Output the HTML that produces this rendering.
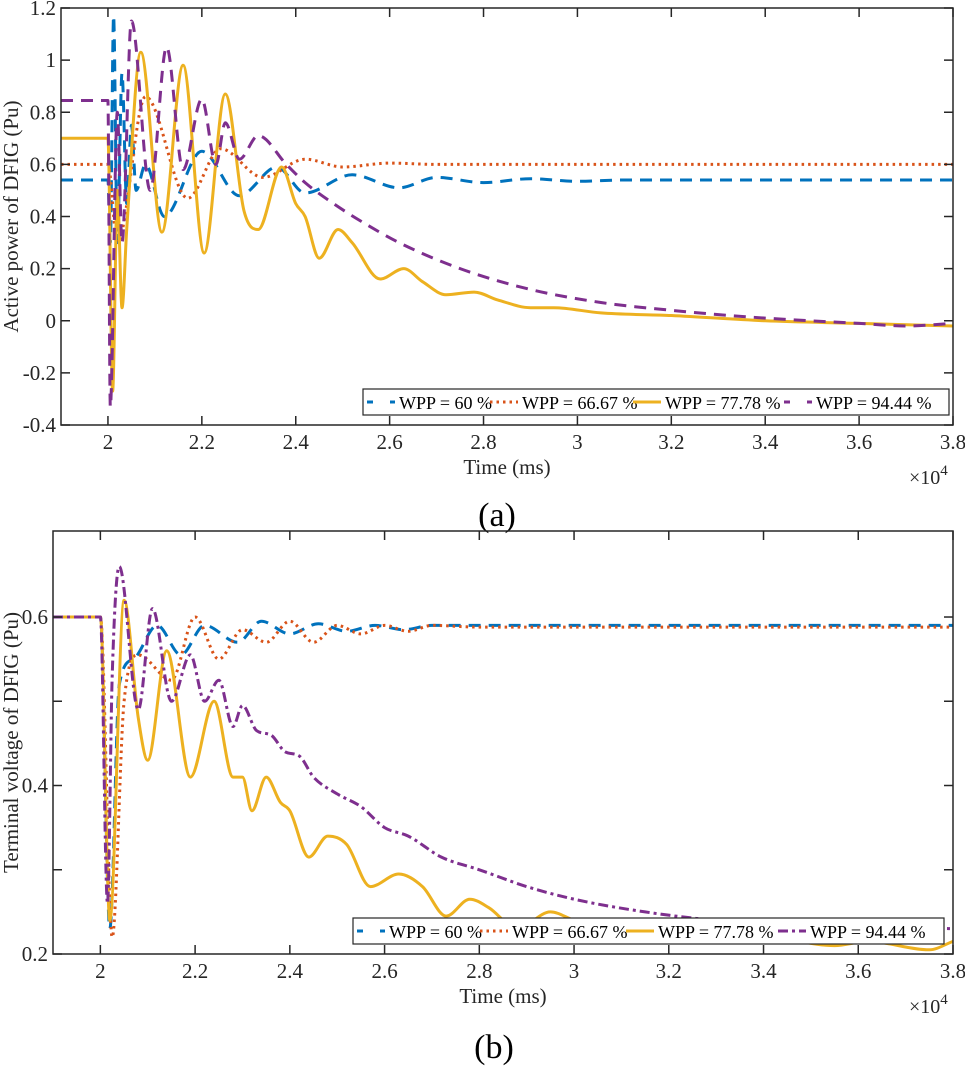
<!DOCTYPE html>
<html><head><meta charset="utf-8">
<style>
body{margin:0;background:#fff;}
svg{display:block;}
text{font-family:"Liberation Serif","Times New Roman",serif;}
</style></head>
<body>
<svg id="fig" width="965" height="1066" viewBox="0 0 965 1066" xmlns="http://www.w3.org/2000/svg"></svg>
<script>
// ---------- data (time in x10^4 ms) ----------
const aBlueT=[1.9,2.0,2.005,2.012,2.02,2.03,2.04,2.05,2.06,2.08,2.12,2.2,2.28,2.36,2.42,2.52,2.62,2.7,2.8,2.9,3.0,3.1,3.8];
const aBlueV=[0.54,0.54,0.3,1.17,0.3,0.95,0.45,0.75,0.5,0.6,0.4,0.65,0.48,0.59,0.49,0.56,0.51,0.55,0.53,0.545,0.535,0.54,0.54];
const aOrangeT=[1.9,2.0,2.02,2.08,2.17,2.24,2.33,2.42,2.5,2.6,2.7,3.8];
const aOrangeV=[0.6,0.6,0.3,0.86,0.47,0.66,0.55,0.62,0.59,0.605,0.6,0.6];
const aYellowT=[1.9,2.0,2.01,2.02,2.03,2.04,2.07,2.115,2.16,2.205,2.25,2.29,2.32,2.37,2.4,2.42,2.45,2.49,2.52,2.58,2.63,2.67,2.72,2.78,2.83,2.9,2.95,3.05,3.2,3.4,3.6,3.8];
const aYellowV=[0.7,0.7,-0.27,0.5,0.05,0.35,1.03,0.34,0.98,0.26,0.87,0.42,0.35,0.59,0.45,0.4,0.24,0.35,0.3,0.16,0.2,0.15,0.1,0.11,0.08,0.05,0.05,0.03,0.02,0.0,-0.01,-0.02];
const aPurpleT=[1.9,2.0,2.005,2.02,2.03,2.05,2.09,2.125,2.16,2.2,2.23,2.25,2.28,2.32,2.38,2.42,2.48,2.55,2.62,2.75,2.9,3.05,3.2,3.4,3.6,3.7,3.8];
const aPurpleV=[0.845,0.845,-0.33,0.8,0.3,1.15,0.5,1.05,0.58,0.85,0.6,0.76,0.62,0.71,0.6,0.53,0.45,0.37,0.3,0.2,0.12,0.07,0.04,0.01,-0.01,-0.02,-0.01];

const bBlueT=[1.9,2.0,2.02,2.04,2.07,2.12,2.17,2.22,2.29,2.34,2.4,2.46,2.52,2.58,2.64,2.7,2.8,3.8];
const bBlueV=[0.6,0.6,0.23,0.52,0.55,0.59,0.555,0.59,0.57,0.595,0.58,0.592,0.583,0.59,0.585,0.59,0.59,0.59];
const bOrangeT=[1.9,2.0,2.025,2.05,2.08,2.15,2.2,2.25,2.3,2.35,2.4,2.45,2.5,2.55,2.6,2.65,2.7,2.8,3.8];
const bOrangeV=[0.6,0.6,0.22,0.5,0.555,0.525,0.6,0.55,0.585,0.57,0.595,0.57,0.59,0.58,0.59,0.583,0.59,0.588,0.588];
const bYellowT=[1.9,2.0,2.02,2.05,2.08,2.1,2.14,2.19,2.24,2.28,2.3,2.32,2.35,2.38,2.4,2.44,2.48,2.52,2.57,2.63,2.68,2.73,2.78,2.82,2.88,2.95,3.0,3.1,3.2,3.3,3.4,3.55,3.62,3.75,3.8];
const bYellowV=[0.6,0.6,0.24,0.62,0.48,0.43,0.56,0.41,0.5,0.41,0.41,0.37,0.41,0.38,0.37,0.315,0.34,0.33,0.28,0.295,0.28,0.245,0.265,0.255,0.23,0.25,0.24,0.225,0.23,0.215,0.22,0.21,0.215,0.205,0.215];
const bPurpleT=[1.9,2.0,2.015,2.025,2.04,2.08,2.11,2.15,2.19,2.22,2.25,2.28,2.3,2.33,2.36,2.39,2.42,2.45,2.5,2.55,2.6,2.65,2.72,2.8,2.9,3.0,3.15,3.3,3.5,3.8];
const bPurpleV=[0.6,0.6,0.26,0.53,0.66,0.49,0.61,0.5,0.555,0.5,0.525,0.47,0.495,0.465,0.46,0.44,0.435,0.41,0.39,0.375,0.35,0.34,0.315,0.3,0.28,0.265,0.25,0.24,0.235,0.23];

const xTicks=[2,2.2,2.4,2.6,2.8,3,3.2,3.4,3.6,3.8];
const xTickLabels=["2","2.2","2.4","2.6","2.8","3","3.2","3.4","3.6","3.8"];
const aYTicks=[-0.4,-0.2,0,0.2,0.4,0.6,0.8,1,1.2];
const aYTickLabels=["-0.4","-0.2","0","0.2","0.4","0.6","0.8","1","1.2"];
const bYTicks=[0.2,0.3,0.4,0.5,0.6];
const bYTickLabels=["0.2","","0.4","","0.6"];
const legendLabels=["WPP = 60 %","WPP = 66.67 %","WPP = 77.78 %","WPP = 94.44 %"];

const NS="http://www.w3.org/2000/svg";
const svg=document.getElementById('fig');
function mk(tag,attrs,parent){const e=document.createElementNS(NS,tag);for(const k in attrs)e.setAttribute(k,attrs[k]);(parent||svg).appendChild(e);return e;}
function pathD(T,V,sx,sy){
  const p=T.map((t,i)=>[sx(t),sy(V[i])]);
  const n=p.length, d=[], m=new Array(n).fill(0);
  for(let i=0;i<n-1;i++){const dx=p[i+1][0]-p[i][0];d.push(dx>0?(p[i+1][1]-p[i][1])/dx:0);}
  m[0]=d[0];m[n-1]=d[n-2];
  for(let i=1;i<n-1;i++){m[i]=(d[i-1]*d[i]<=0)?0:(d[i-1]+d[i])/2;}
  for(let i=0;i<n-1;i++){
    if(d[i]===0){m[i]=0;m[i+1]=0;continue;}
    const a=m[i]/d[i],b=m[i+1]/d[i],s=a*a+b*b;
    if(s>9){const tau=3/Math.sqrt(s);m[i]=tau*a*d[i];m[i+1]=tau*b*d[i];}
  }
  let s=`M${p[0][0].toFixed(1)},${p[0][1].toFixed(1)}`;
  for(let i=0;i<n-1;i++){
    const h=(p[i+1][0]-p[i][0])/3;
    s+=` C${(p[i][0]+h).toFixed(1)},${(p[i][1]+m[i]*h).toFixed(1)} ${(p[i+1][0]-h).toFixed(1)},${(p[i+1][1]-m[i+1]*h).toFixed(1)} ${p[i+1][0].toFixed(1)},${p[i+1][1].toFixed(1)}`;
  }
  return s;
}
const styles=[
 {c:"#0072BD",dash:"12,8"},
 {c:"#D95319",dash:"2.5,4"},
 {c:"#EDB120",dash:""},
 {c:"#7E2F8E",dash:"12,8"}];

function panel(o){
  const g=mk('g',{});
  
  
  const sx=t=>o.x0+(t-1.9)/(3.8-1.9)*(o.x1-o.x0);
  const sy=v=>o.y1-(v-o.ymin)/(o.ymax-o.ymin)*(o.y1-o.y0);
  const cid='clip'+o.name;
  const cp=mk('clipPath',{id:cid},g);mk('rect',{x:o.x0,y:o.y0,width:o.x1-o.x0,height:o.y1-o.y0},cp);
  const lines=mk('g',{'clip-path':`url(#${cid})`},g);
  o.series.forEach((s,i)=>{
    const st=i===3&&o.dashdot?{c:styles[3].c,dash:"10,4,3,4"}:styles[i];
    const p=mk('path',{d:pathD(s[0],s[1],sx,sy),fill:'none',stroke:st.c,'stroke-width':3,'stroke-dasharray':st.dash,'stroke-linejoin':'round'},lines);
    
    
  });
  mk('rect',{x:o.x0,y:o.y0,width:o.x1-o.x0,height:o.y1-o.y0,fill:'none',stroke:'#262626','stroke-width':1.5},g);
  xTicks.forEach((t,i)=>{
    const x=sx(t);
    mk('line',{x1:x,x2:x,y1:o.y1,y2:o.y1-9,stroke:'#262626','stroke-width':1.5},g);
    mk('line',{x1:x,x2:x,y1:o.y0,y2:o.y0+9,stroke:'#262626','stroke-width':1.5},g);
    const tx=mk('text',{x:x,y:o.y1+24,'font-size':21,'text-anchor':'middle',fill:'#262626'},g);
    tx.textContent=xTickLabels[i];
    
    
  });
  o.yt.forEach((v,i)=>{
    const y=sy(v);
    mk('line',{x1:o.x0,x2:o.x0+9,y1:y,y2:y,stroke:'#262626','stroke-width':1.5},g);
    mk('line',{x1:o.x1,x2:o.x1-9,y1:y,y2:y,stroke:'#262626','stroke-width':1.5},g);
    if(o.yl[i]){const tx=mk('text',{x:o.x0-5,y:y+7,'font-size':21,'text-anchor':'end',fill:'#262626'},g);tx.textContent=o.yl[i];
      
      }
  });
  const xl=mk('text',{x:(o.x0+o.x1)/2,y:o.y1+49,'font-size':21,'text-anchor':'middle',fill:'#262626'},g);xl.textContent='Time (ms)';
  
  
  const ex=mk('text',{x:o.x1-44,y:o.y1+59,'font-size':20,fill:'#262626'},g);ex.innerHTML='×10<tspan dy="-9" font-size="15">4</tspan>';
  
  
  const yl=mk('text',{transform:`translate(${o.ylx},${(o.y0+o.y1)/2}) rotate(-90)`,'font-size':21,'text-anchor':'middle',fill:'#262626'},g);yl.textContent=o.ylabel;
  
  
  const cap=mk('text',{x:o.capx,y:o.capy,'font-size':34,'text-anchor':'middle',fill:'#000'},g);cap.textContent=o.cap;
  
  
  const lg=mk('g',{},g);
  
  
  mk('rect',{x:o.lx,y:o.ly,width:o.lw,height:26,fill:'#fff',stroke:'#262626','stroke-width':1.2},lg);
  let cx=o.lx+4;
  legendLabels.forEach((lab,i)=>{
    const st=i===3&&o.dashdot?{c:styles[3].c,dash:"10,4,3,4"}:styles[i];
    const e=mk('g',{},lg);
    
    
    mk('line',{x1:cx,x2:cx+28,y1:o.ly+13,y2:o.ly+13,stroke:st.c,'stroke-width':3,'stroke-dasharray':i===0||(i===3&&!o.dashdot)?"6,17":st.dash},e);
    const t=mk('text',{x:cx+32,y:o.ly+20,'font-size':18,fill:'#000'},e);t.textContent=lab;
    cx+=o.lwid[i];
  });
}
panel({name:'panel-a',x0:61,x1:953,y0:8,y1:425,ymin:-0.4,ymax:1.2,yt:aYTicks,yl:aYTickLabels,
  ylabel:'Active power of DFIG (Pu)',ylx:18,cap:'(a)',capx:497,capy:526,
  lx:363,ly:389,lw:586,lwid:[123,143,151,160],dashdot:false,
  series:[[aBlueT,aBlueV],[aOrangeT,aOrangeV],[aYellowT,aYellowV],[aPurpleT,aPurpleV]]});
panel({name:'panel-b',x0:53,x1:953,y0:531,y1:954,ymin:0.2,ymax:0.7021,yt:bYTicks,yl:bYTickLabels,
  ylabel:'Terminal voltage of DFIG (Pu)',ylx:18,cap:'(b)',capx:494,capy:1058,
  lx:353,ly:918,lw:591,lwid:[123,146,152,160],dashdot:true,
  series:[[bBlueT,bBlueV],[bOrangeT,bOrangeV],[bYellowT,bYellowV],[bPurpleT,bPurpleV]]});
</script>
</body></html>
